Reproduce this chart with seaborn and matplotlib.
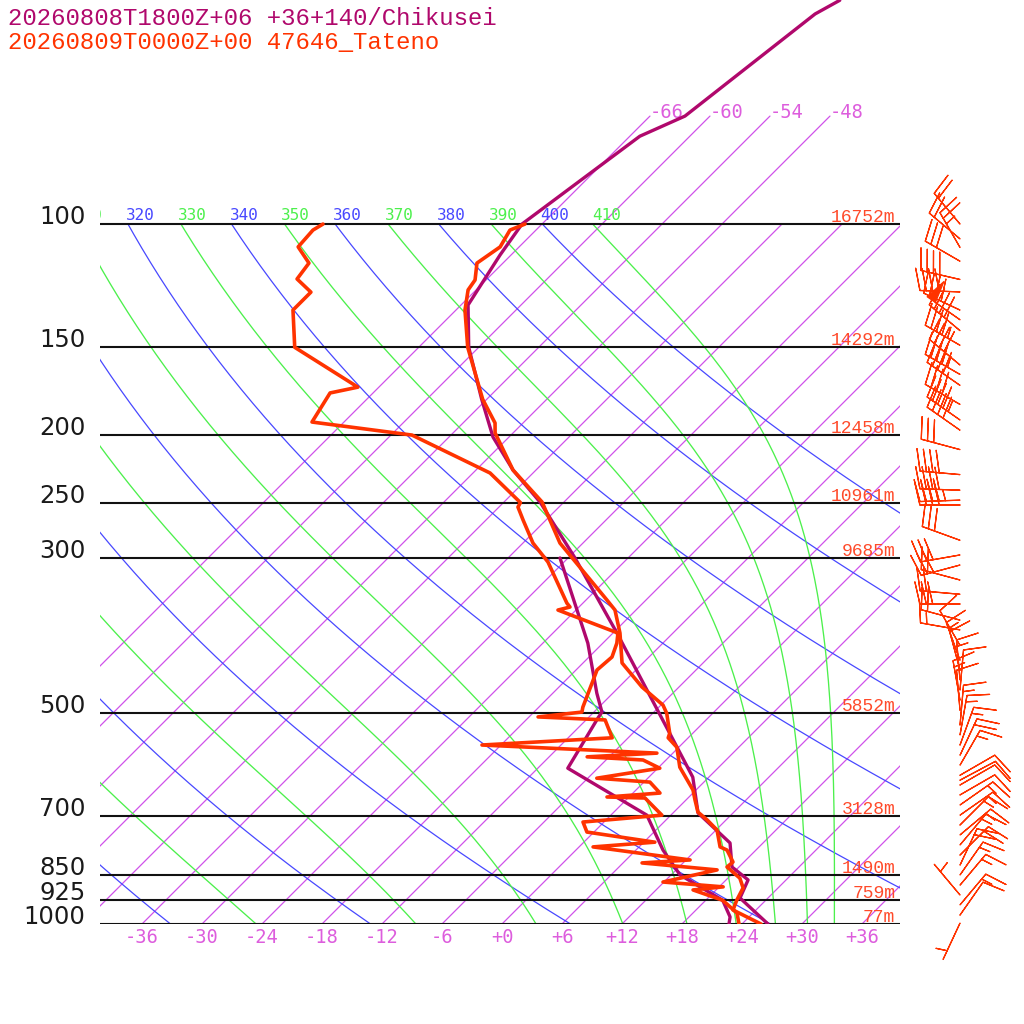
import numpy as np
import pandas as pd
import matplotlib
matplotlib.use("Agg")
import matplotlib.pyplot as plt
import seaborn as sns

# ---- model sounding (Chikusei, +06h forecast): pressure hPa / degC ----
mdl_t_p = [47.9, 50.1, 70.1, 74.9, 100, 110.7, 130.5, 150, 178, 201.5, 224.6, 250,
           300, 384, 534, 617, 694, 766, 829, 865, 918, 1000]
mdl_t_T = [-58.6, -59.7, -62.5, -65.0, -68.0, -67.1, -65.3, -61.0, -54.5, -49.6, -44.3, -38.3,
           -29.3, -17.6, -2.3, 4.4, 8.5, 14.7, 17.3, 20.2, 21.2, 26.6]
mdl_d_p = [300, 397, 468, 498, 508, 599, 699, 784, 851, 925, 977, 1000]
mdl_d_T = [-30.8, -19.5, -13.6, -11.2, -11.0, -9.0, 3.6, 8.7, 12.9, 19.7, 22.1, 22.7]

# ---- observed sounding (47646 Tateno) ----
obs_t_p = [100, 102, 107.8, 113.7, 120.2, 124.2, 132.7, 150, 178, 192.4, 198.8, 224.6, 249.5,
           285.6, 344.5, 356, 384, 423.7, 458.6, 486.6, 500, 534, 542, 559, 597, 643.5, 665,
           692, 710, 734, 776, 784, 815.5, 829, 860, 888, 925, 955, 1000]
obs_t_T = [-67.7, -68.6, -67.9, -68.6, -67.1, -66.8, -65.1, -61.1, -54.4, -50.8, -49.8, -44.3, -38.2,
           -32.3, -21.9, -20.1, -17.3, -14.1, -9.7, -5.8, -4.6, -2.3, -2.0, -0.2, 2.1, 5.7, 6.9,
           8.4, 10.1, 12.1, 14.1, 15.1, 16.9, 16.8, 19.2, 20.5, 21.1, 21.7, 25.9]
obs_d_p = [100, 102, 107.8, 113.7, 119.8, 125.1, 132.7, 150, 171, 174.3, 191.8, 200.2, 226.8, 250,
           253.7, 264.7, 285.6, 304, 348, 352.5, 356, 384, 397, 415.5, 433.6, 490, 498, 506, 511,
           542, 555, 570, 577, 583, 599, 619, 627, 650, 658.5, 660.7, 699, 715, 739, 764, 776,
           810, 818, 837, 871, 885, 894, 925, 964.5, 1000]
obs_d_T = [-87.9, -88.3, -88.1, -85.4, -85.0, -82.3, -82.3, -78.4, -68.1, -70.3, -69.2, -57.9, -46.3, -40.3,
           -40.1, -38.3, -35.0, -31.6, -25.6, -24.9, -25.8, -17.5, -16.6, -15.7, -15.9, -13.6, -13.2, -17.1, -10.1,
           -7.6, -19.9, -1.6, -8.2, -2.3, 0.2, -5.1, 0.6, 2.7, -2.2, 1.7, 5.1, -2.1, -0.7, 7.1, 1.4,
           12.4, 7.9, 16.1, 11.9, 18.4, 15.7, 19.7, 22.4, 23.7]

# ---- observed winds: pressure, direction (deg), speed (kt) ----
wind_p = [997, 971, 939, 909, 880, 851, 824, 797, 771, 746, 722, 699, 676, 654, 633, 623, 613,
          593, 574, 555, 537, 520, 495, 479, 463, 448, 434, 420, 400, 380, 368, 349, 338, 322.5,
          307, 297, 283, 252, 248, 240, 228, 210, 197, 190.5, 181, 170, 164, 159, 149, 142, 137,
          132.7, 125, 120, 113, 108, 105, 100]
wind_dir = [205, 35, 40, 320, 40, 35, 25, 45, 40, 50, 45, 55, 55, 60, 60, 62, 60,
            30, 25, 20, 10, 5, 355, 350, 5, 355, 345, 340, 330, 280, 285, 270, 275, 285,
            255, 260, 290, 270, 268, 272, 275, 285, 305, 305, 300, 305, 300, 310, 300, 310, 305,
            295, 272, 283, 300, 330, 310, 320]
wind_spd = [5, 10, 15, 5, 15, 15, 20, 20, 15, 15, 15, 15, 15, 10, 10, 10, 10,
            15, 20, 15, 15, 15, 10, 15, 10, 15, 10, 15, 10, 15, 20, 30, 20, 20,
            30, 30, 30, 40, 45, 40, 40, 30, 40, 45, 40, 40, 45, 40, 45, 40, 50,
            40, 40, 40, 30, 25, 20, 20]

# ---- chart furniture ----
p_levels = [100, 150, 200, 250, 300, 500, 700, 850, 925, 1000]
heights = ['16752m', '14292m', '12458m', '10961m', '9685m', '5852m', '3128m', '1490m', '759m', '77m']
iso_T = list(range(-66, 37, 6))
iso_top_T = [-66, -60, -54, -48]
dry_theta = list(range(240, 401, 20))
moist_thetae = list(range(230, 411, 20))
theta_labels = list(range(310, 411, 10))
tick_T = [-36, -30, -24, -18, -12, -6, 0, 6, 12, 18, 24, 30, 36]
tick_lbl = ['-36', '-30', '-24', '-18', '-12', '-6', '+0', '+6', '+12', '+18', '+24', '+30', '+36']

title_mdl = '20260808T1800Z+06 +36+140/Chikusei'
title_obs = '20260809T0000Z+00 47646_Tateno'

C_MDL = '#b0086c'
C_OBS = '#ff3300'
C_ISO = '#d052ea'
C_ISO_TXT = '#dd5ddd'
C_DRY = '#4848ff'
C_MOIST = '#4cf04c'

SKEW = 30.4          # 45 degree isotherms
P_BOT, P_TOP = 1000.0, 47.85
P_ISO_TOP = 70.1


def skew_x(t, p):
    return np.asarray(t, float) + SKEW * np.log(1000.0 / np.asarray(p, float))


def theta_e(tk, p):
    tc = tk - 273.15
    es = np.minimum(6.112 * np.exp(17.67 * tc / (tc + 243.5)), 0.6 * p)
    r = 622.0 * es / (p - es)
    th = tk * (1000.0 / p) ** (0.2854 * (1 - 0.28e-3 * r))
    return th * np.exp((3.376 / tk - 0.00254) * r * (1 + 0.81e-3 * r))


def moist_adiabat(te, p):
    lo = np.full_like(p, 150.0)
    hi = np.full_like(p, 330.0)
    for _ in range(60):
        mid = 0.5 * (lo + hi)
        above = theta_e(mid, p) > te
        hi = np.where(above, mid, hi)
        lo = np.where(above, lo, mid)
    return 0.5 * (lo + hi) - 273.15


sns.set_style('white')
plt.rcParams['font.family'] = ['DejaVu Sans']

fig = plt.figure(figsize=(10.24, 10.24), dpi=100)
ax = fig.add_axes([100 / 1024, 100 / 1024, 800 / 1024, 924 / 1024])
ax.set_yscale('log')
ax.set_ylim(P_BOT, P_TOP)
ax.set_xlim(-40.2, 39.8)
for s in ax.spines.values():
    s.set_visible(False)
ax.set_yticks([])
ax.minorticks_off()
ax.set_xticks(tick_T)
ax.set_xticklabels(tick_lbl, family='DejaVu Sans Mono', fontsize=13.5, color=C_ISO_TXT)
ax.tick_params(axis='x', length=0, pad=3)

# isotherms
for t in iso_T:
    ptop = P_ISO_TOP if t in iso_top_T else 100
    ax.plot(skew_x([t, t], [P_BOT, ptop]), [P_BOT, ptop], color=C_ISO, lw=0.9, zorder=1)
for t in iso_top_T:
    ax.text(skew_x(t, P_ISO_TOP), 70.6, f'{t:d}', ha='left', va='baseline',
            family='DejaVu Sans Mono', fontsize=13.5, color=C_ISO_TXT)

# dry and moist adiabats
pp = np.geomspace(P_BOT, 100, 200)
for th in dry_theta:
    tt = th * (pp / 1000.0) ** 0.2857 - 273.15
    ax.plot(skew_x(tt, pp), pp, color=C_DRY, lw=0.9, zorder=1)
for te in moist_thetae:
    tt = moist_adiabat(te, pp)
    ax.plot(skew_x(tt, pp), pp, color=C_MOIST, lw=0.95, zorder=1)
for th in theta_labels:
    t100 = th * 0.1 ** 0.2857 - 273.15
    col = C_MOIST if (th // 10) % 2 == 1 else C_DRY
    ax.text(skew_x(t100, 100) - 0.2, 98.7, str(th), ha='left', va='baseline',
            family='DejaVu Sans Mono', fontsize=11.5, color=col, clip_on=True)

# isobars with pressure and height labels
for p, h in zip(p_levels, heights):
    ax.axhline(p, color='#111111', lw=1.5, zorder=2)
    ax.text(-0.018, p, str(p), transform=ax.get_yaxis_transform(), ha='right',
            va='baseline', fontsize=17.5, color='#1a1a1a')
    ax.text(0.994, p * 0.9934, h, transform=ax.get_yaxis_transform(), ha='right',
            va='baseline', family='Liberation Mono', fontsize=13, color='#ff4a2a', zorder=3)

# soundings
mdl_t = pd.DataFrame({'x': skew_x(mdl_t_T, mdl_t_p), 'p': mdl_t_p})
mdl_d = pd.DataFrame({'x': skew_x(mdl_d_T, mdl_d_p), 'p': mdl_d_p})
obs_t = pd.DataFrame({'x': skew_x(obs_t_T, obs_t_p), 'p': obs_t_p})
obs_d = pd.DataFrame({'x': skew_x(obs_d_T, obs_d_p), 'p': obs_d_p})
for df, col, lw in [(mdl_t, C_MDL, 2.4), (mdl_d, C_MDL, 2.4), (obs_t, C_OBS, 2.6), (obs_d, C_OBS, 2.6)]:
    sns.lineplot(data=df, x='x', y='p', sort=False, estimator=None, color=col, lw=lw,
                 ax=ax, zorder=4)
ax.set_xlabel('')
ax.set_ylabel('')
ax.set_ylim(P_BOT, P_TOP)
ax.set_xlim(-40.2, 39.8)

# wind barbs
axw = fig.add_axes([900 / 1024, 100 / 1024, 124 / 1024, 924 / 1024], sharey=ax)
axw.set_xlim(0, 1)
axw.axis('off')
rad = np.deg2rad(wind_dir)
u = -np.asarray(wind_spd) * np.sin(rad)
v = -np.asarray(wind_spd) * np.cos(rad)
axw.barbs(np.full(len(wind_p), 0.484), wind_p, u, v, length=7.6, color=C_OBS, linewidth=0.9,
          sizes=dict(spacing=0.16, height=0.55, width=0.25), clip_on=False)

fig.text(8 / 1024, 1 - 25 / 1024, title_mdl, family='Liberation Mono', fontsize=17.3,
         color=C_MDL, va='baseline')
fig.text(8 / 1024, 1 - 49 / 1024, title_obs, family='Liberation Mono', fontsize=17.3,
         color=C_OBS, va='baseline')

fig.savefig('out.png', dpi=100)
